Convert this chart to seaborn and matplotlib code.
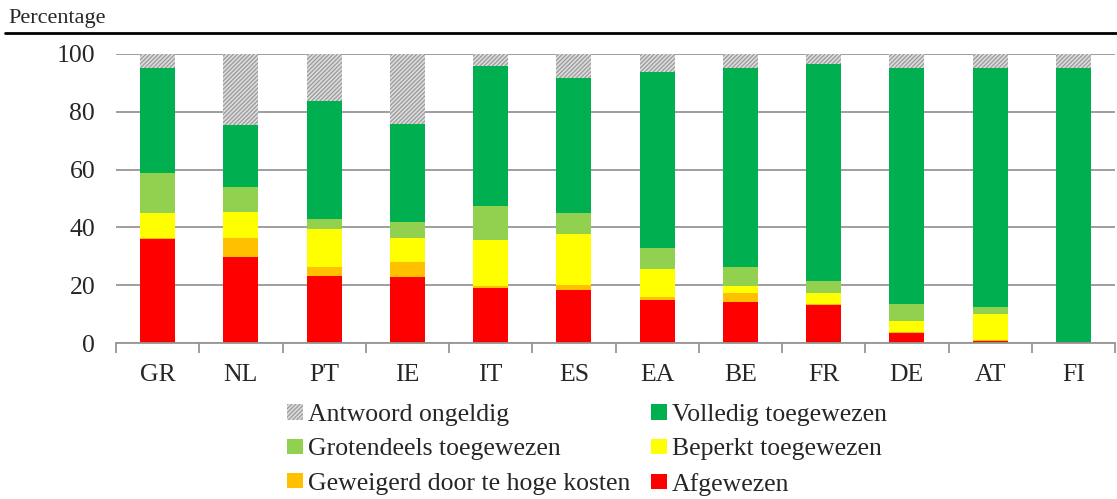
import numpy as np
import pandas as pd
import matplotlib
matplotlib.use("Agg")
import matplotlib.pyplot as plt
from matplotlib.patches import Patch
from matplotlib.lines import Line2D
import seaborn as sns

landen = ["GR", "NL", "PT", "IE", "IT", "ES", "EA", "BE", "FR", "DE", "AT", "FI"]

afgewezen = [35.9, 29.9, 23.3, 22.7, 19.1, 18.5, 14.9, 14.3, 13.1, 3.5, 0.6, 0.2]
geweigerd = [0.5, 6.5, 2.9, 5.3, 0.5, 1.7, 1.1, 2.9, 0.5, 0.4, 0.3, 0.0]
beperkt = [8.5, 9.0, 13.2, 8.4, 16.2, 17.4, 9.6, 2.4, 3.6, 3.7, 9.1, 0.0]
grotendeels = [13.8, 8.5, 3.6, 5.6, 11.5, 7.3, 7.3, 6.6, 4.3, 6.0, 2.5, 0.0]
volledig = [36.6, 21.5, 40.9, 33.9, 48.7, 46.7, 60.8, 69.1, 75.0, 81.4, 82.8, 95.1]
ongeldig = [4.7, 24.6, 16.1, 24.1, 4.0, 8.4, 6.3, 4.7, 3.5, 5.0, 4.7, 4.7]

reeksen = ["Afgewezen", "Geweigerd door te hoge kosten", "Beperkt toegewezen",
           "Grotendeels toegewezen", "Volledig toegewezen", "Antwoord ongeldig"]
kleuren = ["#ff0000", "#ffc000", "#ffff00", "#92d050", "#00b050", "#dcdcdc"]

df = pd.DataFrame(np.column_stack([afgewezen, geweigerd, beperkt, grotendeels, volledig, ongeldig]),
                  index=landen, columns=reeksen)
cum = df.cumsum(axis=1)

sns.set_theme(style="white")
plt.rcParams["font.family"] = ["Liberation Serif", "DejaVu Serif"]
plt.rcParams["hatch.linewidth"] = 0.9

HATCH = "////////"
HATCH_KLEUR = "#9a9a9a"

fig = plt.figure(figsize=(11.17, 4.99), dpi=100)
ax = fig.add_axes([116 / 1117, 1 - 343 / 499, 999 / 1117, 289 / 499])

# gestapelde staven: cumulatieve totalen van boven naar beneden tekenen
for i in range(len(reeksen) - 1, -1, -1):
    naam = reeksen[i]
    if naam == "Antwoord ongeldig":
        extra = dict(hatch=HATCH, edgecolor=HATCH_KLEUR, linewidth=0)
    else:
        extra = dict(edgecolor="none", linewidth=0)
    sns.barplot(x=landen, y=cum[naam].values, order=landen, color=kleuren[i],
                saturation=1, width=0.42, errorbar=None, ax=ax, **extra)

ax.set_xlim(-0.5, len(landen) - 0.5)
ax.set_ylim(0, 100)
ax.set_yticks([0, 20, 40, 60, 80, 100])
ax.yaxis.grid(True, color="#969696", linewidth=1.3)
ax.set_axisbelow(True)
for s in ["top", "right", "left"]:
    ax.spines[s].set_visible(False)
ax.spines["bottom"].set_color("#969696")
ax.spines["bottom"].set_linewidth(1.3)
ax.set_xticks(np.arange(-0.5, len(landen), 1.0), minor=True)
ax.tick_params(axis="x", which="minor", length=7, width=1.3, color="#969696", direction="out", bottom=True)
ax.tick_params(axis="x", which="major", length=0, pad=15, labelsize=18.5)
ax.tick_params(axis="y", length=0, pad=15, labelsize=18.5)
ax.set_xlabel("")
ax.set_ylabel("")

fig.text(8 / 1117, 1 - 18 / 499, "Percentage", fontsize=16, va="center", ha="left")
fig.add_artist(Line2D([5 / 1117, 1.0], [1 - 33 / 499] * 2, color="black", linewidth=2,
                      transform=fig.transFigure))

legenda_volgorde = [5, 3, 1, 4, 2, 0]
handles = []
for i in legenda_volgorde:
    if reeksen[i] == "Antwoord ongeldig":
        handles.append(Patch(facecolor=kleuren[i], edgecolor=HATCH_KLEUR, hatch=HATCH,
                             linewidth=0, label=reeksen[i]))
    else:
        handles.append(Patch(facecolor=kleuren[i], edgecolor="none", label=reeksen[i]))
fig.legend(handles=handles, ncol=2, loc="upper left", bbox_to_anchor=(287 / 1117, 1 - 404 / 499),
           frameon=False, fontsize=18.5, handlelength=0.62, handleheight=0.55,
           handletextpad=0.2, labelspacing=0.48, columnspacing=0.8, borderaxespad=0,
           borderpad=0)

fig.savefig("out.png", dpi=100)
